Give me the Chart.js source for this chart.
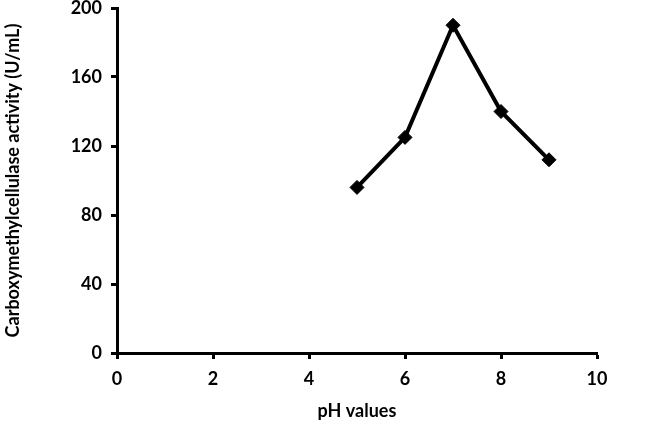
<!DOCTYPE html>
<html>
<head>
<meta charset="utf-8">
<script src="https://cdn.jsdelivr.net/npm/chart.js@4"></script>
<style>
  html, body { margin: 0; padding: 0; background: #fff; }
  #wrap { width: 661px; height: 423px; }
</style>
</head>
<body>
<div id="wrap"><canvas id="phChart" width="661" height="423"></canvas></div>
<script>
// pH vs CMCase activity
const phValues = [5, 6, 7, 8, 9];
const activity = [96, 125, 190, 140, 112];
const xTicks = [0, 2, 4, 6, 8, 10];
const yTicks = [0, 40, 80, 120, 160, 200];

const fontFam = "Lato, 'Open Sans', sans-serif";
const boldFont = { family: fontFam, size: 18, weight: 'bold' };

const ctx = document.getElementById('phChart').getContext('2d');
new Chart(ctx, {
    type: 'scatter',
    data: {
        datasets: [{
            data: phValues.map((x, i) => ({ x: x, y: activity[i] })),
            showLine: true,
            borderColor: '#000',
            borderWidth: 4,
            backgroundColor: '#000',
            pointStyle: 'rectRot',
            pointRadius: 7,
            pointBorderWidth: 1,
            pointBorderColor: '#000',
            pointBackgroundColor: '#000'
        }]
    },
    options: {
        responsive: false,
        animation: false,
        layout: { padding: { left: 0, top: 7, right: 64, bottom: 0 } },
        plugins: { legend: { display: false }, tooltip: { enabled: false } },
        scales: {
            x: {
                type: 'linear',
                min: 0, max: 10,
                afterBuildTicks: s => { s.ticks = xTicks.map(v => ({ value: v })); },
                afterFit: s => { s.height = 70; },
                border: { color: '#000', width: 3 },
                grid: { drawOnChartArea: false, color: '#000', tickLength: 6, tickWidth: 3 },
                ticks: { color: '#000', padding: 9, font: boldFont, maxRotation: 0 },
                title: { display: true, text: 'pH values', color: '#000', padding: { top: 4, bottom: 1 }, font: boldFont }
            },
            y: {
                min: 0, max: 200,
                afterBuildTicks: s => { s.ticks = yTicks.map(v => ({ value: v })); },
                // keep the plot top at the 200 tick, no extra room for the label
                afterFit: s => { s.width = 117; s.paddingTop = 0; s.paddingBottom = 0; },
                border: { color: '#000', width: 3 },
                grid: { drawOnChartArea: false, color: '#000', tickLength: 6, tickWidth: 3 },
                ticks: { color: '#000', padding: 9, font: boldFont },
                title: { display: true, text: 'Carboxymethylcellulase activity (U/mL)', color: '#000',
                         padding: { top: 2, bottom: 4 }, font: boldFont }
            }
        }
    }
});
</script>
</body>
</html>
